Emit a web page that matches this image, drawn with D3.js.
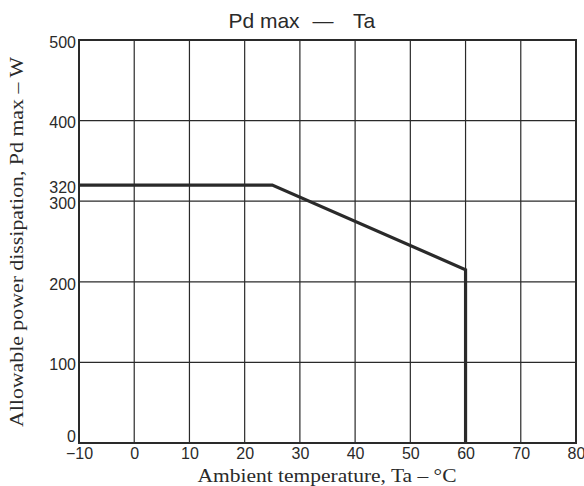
<!DOCTYPE html>
<html><head><meta charset="utf-8">
<script src="https://cdn.jsdelivr.net/npm/d3@7"></script>
<style>body{margin:0;background:#fff}</style>
</head><body>
<svg id="c" width="584" height="486"></svg>
<script>
const xTicks = [-10, 0, 10, 20, 30, 40, 50, 60, 70, 80];
const yTicks = [0, 100, 200, 300, 320, 400, 500];
const yGrid = [100, 200, 300, 400];
const curveTa = [-10, 25, 60, 60];
const curvePd = [320, 320, 215, 0];
const titleParts = ["Pd max", "—", "Ta"];
const xTitle = "Ambient temperature, Ta – °C";
const yTitle = "Allowable power dissipation, Pd max – W";

const svg = d3.select("#c");
const L = 79, R = 576, T = 40, B = 443;
const x = d3.scaleLinear().domain([-10, 80]).range([L, R]);
const y = d3.scaleLinear().domain([0, 500]).range([B, T]);
const ink = "#2a2a2a";
const sans = "'Liberation Sans', Arial, sans-serif";
const serif = "'Liberation Serif', 'Times New Roman', serif";

// grid
svg.append("g").selectAll("line").data(xTicks.slice(1, -1)).join("line")
  .attr("x1", d => x(d)).attr("x2", d => x(d)).attr("y1", T).attr("y2", B)
  .attr("stroke", ink).attr("stroke-width", 1.2);
svg.append("g").selectAll("line").data(yGrid).join("line")
  .attr("y1", d => y(d)).attr("y2", d => y(d)).attr("x1", L).attr("x2", R)
  .attr("stroke", ink).attr("stroke-width", 1.2);

// frame
svg.append("rect").attr("x", L).attr("y", T).attr("width", R - L).attr("height", B - T)
  .attr("fill", "none").attr("stroke", ink).attr("stroke-width", 2);

// curve
const pts = curveTa.map((t, i) => [t, curvePd[i]]);
svg.append("path").datum(pts)
  .attr("d", d3.line().x(d => x(d[0])).y(d => y(d[1])))
  .attr("fill", "none").attr("stroke", ink).attr("stroke-width", 3.2);

// tick labels
const ax = svg.append("g").attr("transform", `translate(0,${B})`)
  .call(d3.axisBottom(x).tickValues(xTicks).tickSize(0).tickPadding(5).tickFormat(d => d < 0 ? "\u2212" + Math.abs(d) : d));
const ay = svg.append("g").attr("transform", `translate(${L - 1},0)`)
  .call(d3.axisLeft(y).tickValues(yTicks).tickSize(0).tickPadding(2));
[ax, ay].forEach(g => {
  g.select(".domain").remove();
  g.selectAll("text").attr("fill", ink).style("font-family", sans).style("font-size", "16px");
});
ay.selectAll("text").attr("dy", d => d === 0 ? "-0.1em" : "0.45em");

// title
const titleX = [264, 323, 364];
svg.append("g").selectAll("text").data(titleParts).join("text")
  .attr("x", (d, i) => titleX[i]).attr("y", 28).attr("text-anchor", "middle")
  .style("font-family", sans).style("font-size", "21px").attr("fill", ink).text(d => d);

svg.append("text").attr("x", 327).attr("y", 482).attr("text-anchor", "middle")
  .attr("textLength", 259).attr("lengthAdjust", "spacingAndGlyphs")
  .style("font-family", serif).style("font-size", "19px")
  .attr("fill", ink).text(xTitle);

svg.append("text").attr("transform", `translate(23,${242}) rotate(-90)`).attr("text-anchor", "middle")
  .attr("textLength", 370).attr("lengthAdjust", "spacingAndGlyphs")
  .style("font-family", serif).style("font-size", "19px")
  .attr("fill", ink).text(yTitle);
</script>
</body></html>
